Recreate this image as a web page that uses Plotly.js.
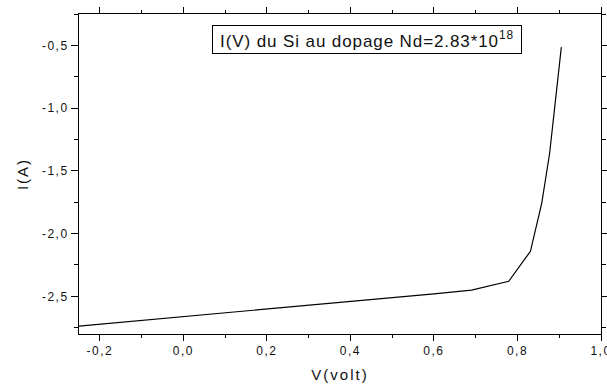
<!DOCTYPE html>
<html><head><meta charset="utf-8">
<script src="https://cdn.plot.ly/plotly-3.0.1.min.js"></script>
<style>
html,body{margin:0;padding:0;background:#fff;}
#chart{width:607px;height:384px;}
.xtick text,.ytick text{letter-spacing:1.5px;}
.g-xtitle text,.g-ytitle text{letter-spacing:2px;}
.annotation-text{letter-spacing:0.9px;}
</style></head>
<body><div id="chart"></div>
<script>
const voltage = [-0.25, 0.0, 0.2, 0.4, 0.6, 0.69, 0.779, 0.831, 0.858, 0.877, 0.905];
const current = [-2.737, -2.663, -2.600, -2.540, -2.480, -2.450, -2.380, -2.141, -1.760, -1.360, -0.514];
const xTickVals = [-0.2, 0, 0.2, 0.4, 0.6, 0.8, 1.0];
const xTickText = ['-0,2', '0,0', '0,2', '0,4', '0,6', '0,8', '1,0'];
const yTickVals = [-2.5, -2, -1.5, -1, -0.5];
const yTickText = ['-2,5', '-2,0', '-1,5', '-1,0', '-0,5'];
const legendText = 'I(V) du Si au dopage Nd=2.83*10<sup>18</sup>';

const font = 'Liberation Sans, Arial, sans-serif';
const trace = {
  x: voltage, y: current, type: 'scatter', mode: 'lines',
  line: {color: '#000', width: 1.2}, hoverinfo: 'skip'
};
const layout = {
  width: 607, height: 384,
  margin: {l: 79, r: 6, t: 14, b: 50},
  paper_bgcolor: '#fff', plot_bgcolor: '#fff',
  showlegend: false,
  font: {family: font, color: '#111', size: 12},
  xaxis: {
    range: [-0.25, 1.0], showgrid: false, zeroline: false,
    showline: true, linecolor: '#000', linewidth: 1, mirror: 'allticks',
    ticks: 'outside', ticklen: 6, tickcolor: '#000', tickwidth: 1,
    tickmode: 'array', tickvals: xTickVals, ticktext: xTickText,
    ticklabeloverflow: 'allow',
    tickfont: {size: 12, family: font, color: '#111'},
    minor: {tickmode: 'linear', tick0: 0, dtick: 0.1, ticks: 'outside', ticklen: 3, tickcolor: '#000'},
    title: {text: 'V(volt)', font: {size: 15, family: font, color: '#111'}, standoff: 12}
  },
  yaxis: {
    range: [-2.8, -0.25], showgrid: false, zeroline: false,
    showline: true, linecolor: '#000', linewidth: 1, mirror: 'allticks',
    ticks: 'outside', ticklen: 7, tickcolor: '#000', tickwidth: 1,
    tickmode: 'array', tickvals: yTickVals, ticktext: yTickText,
    ticklabeloverflow: 'allow',
    tickfont: {size: 12, family: font, color: '#111'},
    minor: {tickmode: 'linear', tick0: 0, dtick: 0.25, ticks: 'outside', ticklen: 4, tickcolor: '#000'},
    title: {text: 'I(A)', font: {size: 15, family: font, color: '#111'}, standoff: 9}
  },
  annotations: [{
    text: legendText, xref: 'x', yref: 'y', x: 0.4408, y: -0.456,
    xanchor: 'center', yanchor: 'middle', showarrow: false,
    width: 306, height: 25, borderpad: 1, borderwidth: 1, bordercolor: '#000',
    bgcolor: '#fff', font: {size: 17, family: font, color: '#111'}
  }]
};
Plotly.newPlot('chart', [trace], layout, {displayModeBar: false, staticPlot: true});
</script>
</body></html>
